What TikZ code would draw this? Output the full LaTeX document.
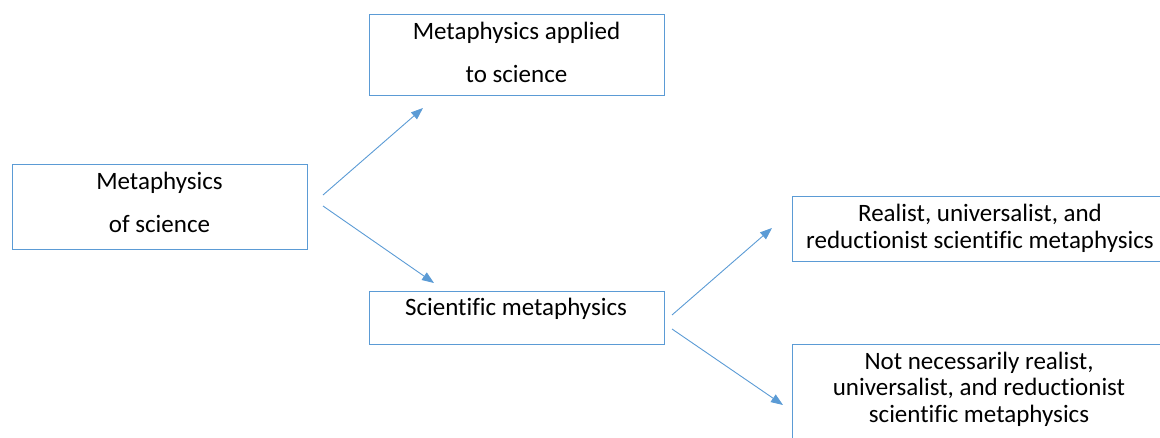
\documentclass[tikz,border=0pt]{standalone}
\usepackage{fontspec}
\setmainfont{Carlito}[Ligatures=NoCommon]
\usetikzlibrary{arrows.meta,calc}
\definecolor{boxblue}{RGB}{91,155,213}
\tikzset{
  box/.style={draw=boxblue,line width=0.9pt,inner sep=0pt,outer sep=0pt},
  txt/.style={align=center,inner sep=0pt,anchor=base,font=\fontsize{25}{43}\selectfont},
  txtt/.style={align=center,inner sep=0pt,anchor=base,font=\fontsize{25}{26.5}\selectfont},
  conn/.style={draw=boxblue,line width=0.9pt,-{Triangle[length=12pt,width=9pt]}}
}
\begin{document}
\begin{tikzpicture}[x=1pt,y=-1pt]
\useasboundingbox (0,0) rectangle (1160,437);
\clip (0,0) rectangle (1160,437);
% boxes
\node[box,minimum width=295pt,minimum height=85pt] (A) at (159.5,206.5) {};
\node[box,minimum width=295pt,minimum height=81pt] (B) at (516.5,54.5) {};
\node[box,minimum width=295pt,minimum height=53pt] (C) at (516.5,317.5) {};
\node[box,minimum width=380pt,minimum height=65pt] (D) at (982,228.5) {};
\node[box,minimum width=380pt,minimum height=120pt] (E) at (982,404) {};
% texts (anchor = baseline of last line)
\node[txt] (tA) at (159.5,232) {Metaphysics\\of science};
\node[txt] (tB) at (516.5,82) {Metaphysics applied\\to science};
\node[txt] (tC) at (516,315) {Scientific metaphysics};
\node[txtt] (tD) at (980,248) {Realist, universalist, and\\reductionist scientific metaphysics};
\node[txtt] (tE) at (979,422) {Not necessarily realist,\\universalist, and reductionist\\scientific metaphysics};
% connector ends
\coordinate (a1) at ($(A.east)+(16,-11.5)$);
\coordinate (a2) at ($(A.east)+(16,-0.5)$);
\coordinate (b1) at ($(B.south west)+(54,13)$);
\coordinate (c0) at ($(C.north west)+(65,-8)$);
\coordinate (c1) at ($(C.east)+(8,-2.5)$);
\coordinate (c2) at ($(C.east)+(8,11.5)$);
\coordinate (d1) at ($(D.south west)+(-20,-33)$);
\coordinate (e1) at ($(E.north west)+(-9,61)$);
\draw[conn] (a1) -- (b1);
\draw[conn] (a2) -- (c0);
\draw[conn] (c1) -- (d1);
\draw[conn] (c2) -- (e1);
\end{tikzpicture}
\end{document}
